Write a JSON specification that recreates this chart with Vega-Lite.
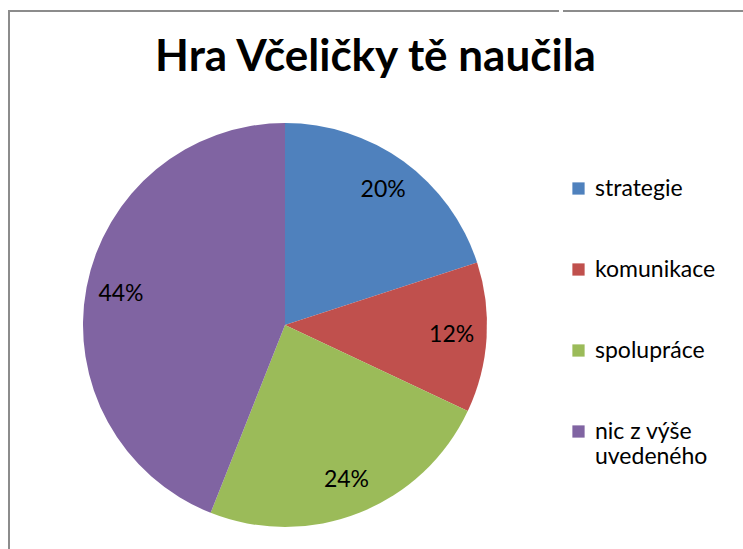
{
  "$schema": "https://vega.github.io/schema/vega-lite/v6.json",
  "autosize": {"type": "pad"},
  "padding": {"left": 8, "top": 10, "right": 0, "bottom": 0},
  "background": "#ffffff",
  "spacing": 0,
  "title": {
    "text": "Hra Včeličky tě naučila",
    "font": "Lato",
    "fontSize": 44,
    "fontWeight": "bold",
    "color": "#000000",
    "anchor": "middle",
    "baseline": "alphabetic",
    "offset": 0,
    "dx": -2,
    "dy": 105
  },
  "data": {
    "values": [
      {"kategorie": "strategie", "podil": 0.20, "poradi": 1},
      {"kategorie": "komunikace", "podil": 0.12, "poradi": 2},
      {"kategorie": "spolupráce", "podil": 0.24, "poradi": 3},
      {"kategorie": "nic z výše uvedeného", "podil": 0.44, "poradi": 4}
    ]
  },
  "hconcat": [
    {
      "width": 552,
      "height": 628,
      "view": {
        "stroke": "#8c8c8c",
        "strokeWidth": 2,
        "strokeCap": "butt",
        "strokeDash": [550, 1182, 628]
      },
      "encoding": {
        "theta": {"field": "podil", "type": "quantitative", "stack": true},
        "order": {"field": "poradi", "type": "quantitative"},
        "color": {
          "field": "kategorie",
          "type": "nominal",
          "sort": null,
          "scale": {
            "domain": ["strategie", "komunikace", "spolupráce", "nic z výše uvedeného"],
            "range": ["#4F81BD", "#C0504D", "#9BBB59", "#8064A2"]
          },
          "legend": {
            "title": null,
            "orient": "none",
            "legendX": 558,
            "legendY": 166,
            "symbolType": "square",
            "symbolSize": 150,
            "symbolStrokeWidth": 0,
            "labelFont": "Lato",
            "labelFontSize": 23,
            "labelColor": "#000000",
            "labelOffset": 5,
            "labelLimit": 300,
            "rowPadding": 57,
            "labelExpr": "datum.label == 'nic z výše uvedeného' ? ['nic z výše', 'uvedeného'] : datum.label"
          }
        }
      },
      "layer": [
        {"mark": {"type": "arc", "outerRadius": 202, "stroke": null}},
        {
          "mark": {"type": "text", "radius": 167, "font": "Lato", "fontSize": 23, "color": "#000000"},
          "encoding": {
            "text": {"field": "podil", "type": "quantitative", "format": ".0%"},
            "color": {"value": "#000000"}
          }
        }
      ]
    },
    {
      "width": 183,
      "height": 628,
      "view": {
        "stroke": "#8c8c8c",
        "strokeWidth": 2,
        "strokeCap": "butt",
        "strokeDash": [185, 5000]
      },
      "mark": {"type": "text"},
      "encoding": {"text": {"value": ""}}
    }
  ]
}
